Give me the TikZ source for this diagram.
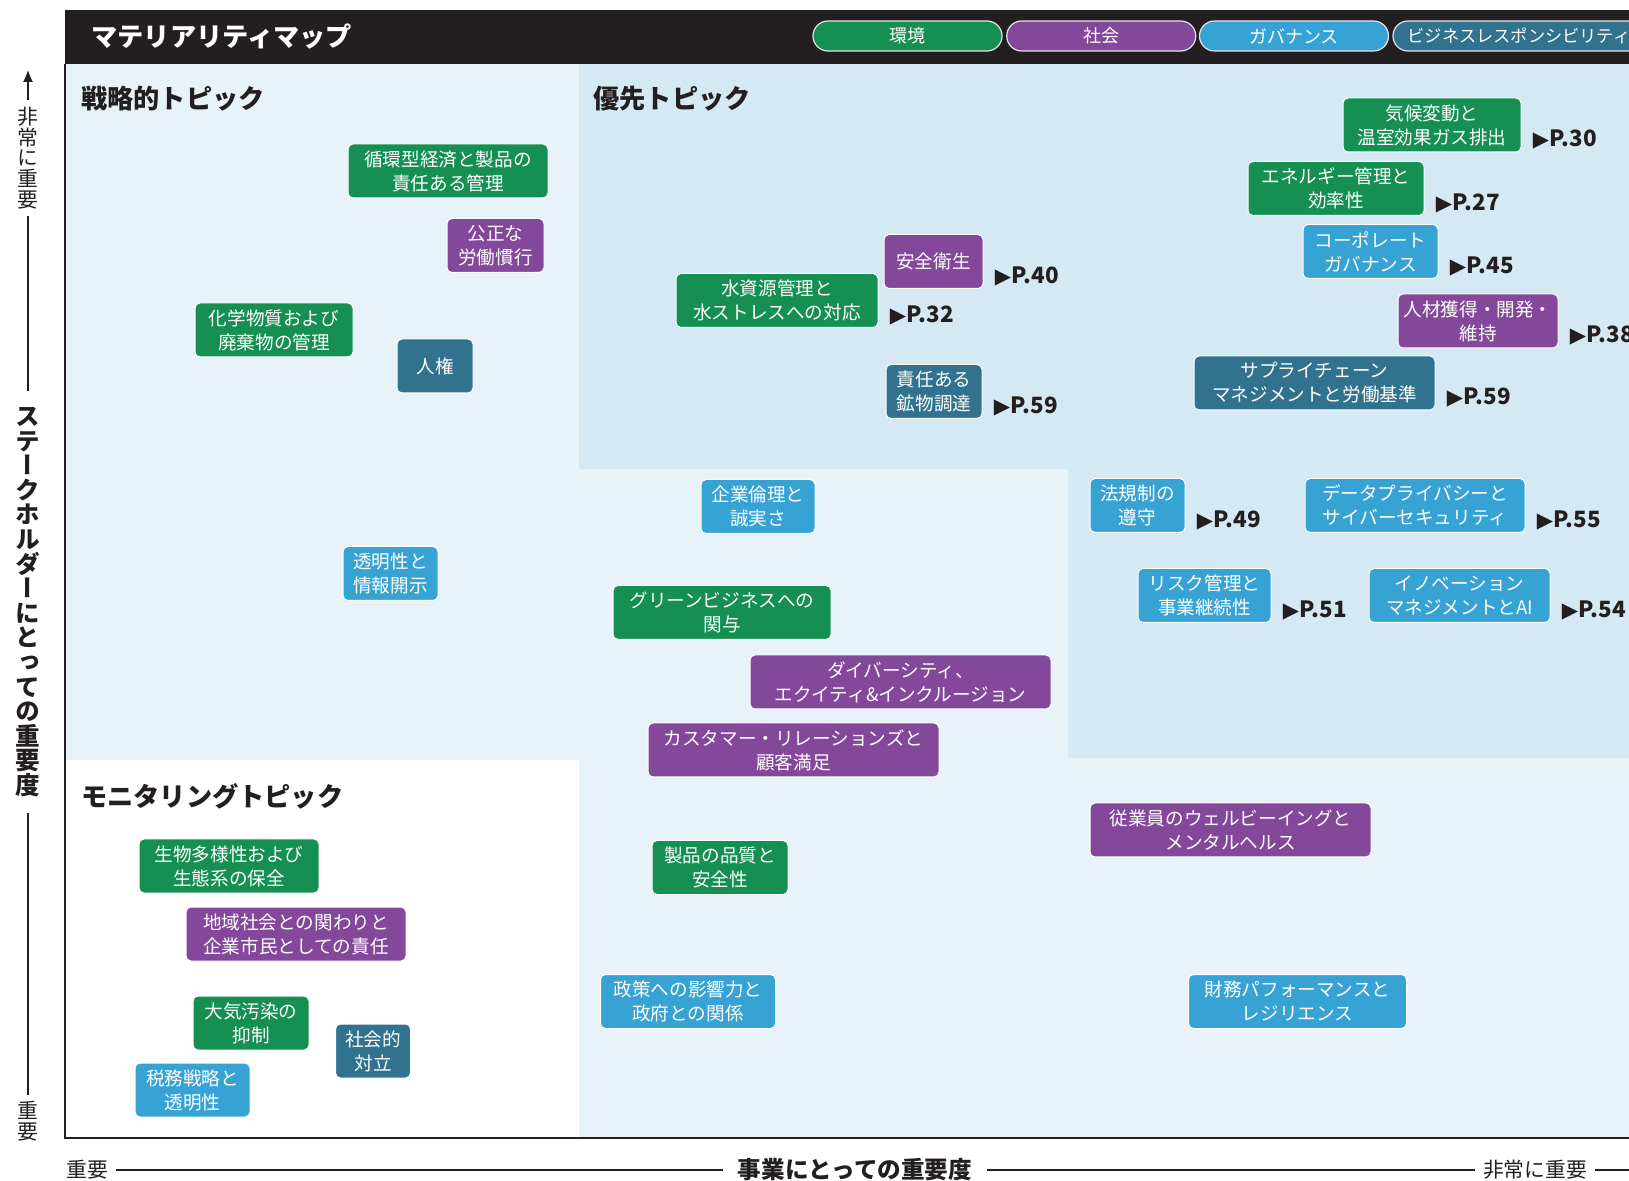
\documentclass[tikz,border=0pt]{standalone}
\usepackage{fontspec}
\usetikzlibrary{arrows.meta}
\newfontfamily\jp{Noto Sans CJK JP}
\newfontfamily\jpv[RawFeature=+vert]{Noto Sans CJK JP}
\newfontfamily\djv{DejaVu Sans}
\definecolor{gr}{RGB}{21,143,82}
\definecolor{pu}{RGB}{131,72,153}
\definecolor{bl}{RGB}{55,163,213}
\definecolor{te}{RGB}{49,114,143}
\definecolor{hdr}{RGB}{35,31,32}
\definecolor{lt}{RGB}{231,243,249}
\definecolor{dk}{RGB}{212,233,244}
\newcommand\pg[1]{{\djv\fontsize{10.6}{10.6}\selectfont ▶}\kern0.2pt P.#1}
\tikzset{
  topic/.style={rounded corners=2.5pt, draw=white, line width=0.5pt, text=white,
    align=center, inner sep=0pt, minimum height=27pt,
    font=\jp\fontsize{9.3}{12}\selectfont},
  bw/.style={minimum width=#1*0.5pt},
  plab/.style={anchor=base west, xshift=5.5pt, yshift=2.75pt, inner sep=0pt,
    text=hdr, font=\jp\bfseries\fontsize{11.2}{11.2}\selectfont},
  sect/.style={anchor=west, inner sep=0pt, text=hdr,
    font=\jp\bfseries\fontsize{13.1}{13.1}\selectfont},
  pill/.style={rounded corners=7.5pt, draw=white!80!gray, line width=0.6pt,
    text=white, inner sep=0pt, minimum height=15pt,
    font=\jp\fontsize{9}{9}\selectfont},
  axs/.style={inner ysep=0pt, inner xsep=3.8pt, text=hdr,
    font=\jp\fontsize{10.4}{10.4}\selectfont},
  axb/.style={inner ysep=0pt, inner xsep=7.3pt, text=hdr,
    font=\jp\bfseries\fontsize{11.8}{11.8}\selectfont},
  axsv/.style={inner xsep=0pt, inner ysep=3pt, align=center, text=hdr,
    font=\jpv\fontsize{10.4}{10.4}\selectfont},
  axbv/.style={inner xsep=0pt, inner ysep=8pt, align=center, text=hdr,
    font=\jpv\bfseries\fontsize{12.3}{12.3}\selectfont},
  axline/.style={draw=hdr, line width=1pt},
  axlinev/.style={draw=hdr, line width=0.6pt}
}
\begin{document}
\begin{tikzpicture}[x=0.5pt,y=-0.5pt]
\useasboundingbox (0,0) rectangle (1629,1181);
\clip (0,0) rectangle (1629,1181);
\fill[white] (0,0) rectangle (1629,1181);
% regions
\fill[lt] (65,64) rectangle (1629,1138);
\fill[white] (65,760) rectangle (579,1138);
\fill[dk] (579,64) -- (1629,64) -- (1629,758) -- (1068,758) -- (1068,469) -- (579,469) -- cycle;
% header
\fill[hdr] (65,10) rectangle (1629,64);
\draw[hdr, line width=1pt] (65,64) -- (65,1138) -- (1629,1138);
\node[sect, text=white] (ttl) at (91,37) {マテリアリティマップ};
\node[pill, fill=gr, minimum width=94.5pt] (g1) at (907.5,36) {環境};
\node[pill, fill=pu, minimum width=94.5pt] (g2) at (1101.25,36) {社会};
\node[pill, fill=bl, minimum width=94.5pt] (g3) at (1294,36) {ガバナンス};
\node[pill, fill=te, minimum width=126pt, font=\jp\fontsize{8.6}{8.6}\selectfont] (g4) at (1519,36) {ビジネスレスポンシビリティ};
% section titles
\node[sect] (s1) at (81,99) {戦略的トピック};
\node[sect] (s2) at (593,99) {優先トピック};
\node[sect] (s3) at (81,796) {モニタリングトピック};
% topics
\node[topic,fill=gr,bw=200] (t1) at (448,171) {循環型経済と製品の\\責任ある管理};
\node[topic,fill=pu,bw=97] (t2) at (495.5,245.5) {公正な\\労働慣行};
\node[topic,fill=gr,bw=158] (t3) at (274,330) {化学物質および\\廃棄物の管理};
\node[topic,fill=te,bw=76] (t4) at (435,366) {人権};
\node[topic,fill=bl,bw=95] (t5) at (390.5,573.5) {透明性と\\情報開示};
\node[topic,fill=bl,bw=114] (t6) at (758,506.5) {企業倫理と\\誠実さ};
\node[topic,fill=gr,bw=218] (t7) at (722,612.5) {グリーンビジネスへの\\関与};
\node[topic,fill=pu,bw=301] (t8) at (900.5,682) {ダイバーシティ、\\エクイティ\&インクルージョン};
\node[topic,fill=pu,bw=291] (t9) at (793.5,750) {カスタマー・リレーションズと\\顧客満足};
\node[topic,fill=gr,bw=202] (t10) at (777,300.5) {水資源管理と\\水ストレスへの対応};
\node[topic,fill=pu,bw=99] (t11) at (933.5,261.5) {安全衛生};
\node[topic,fill=te,bw=96] (t12) at (934,391.5) {責任ある\\鉱物調達};
\node[topic,fill=gr,bw=178] (t13) at (1432,125) {気候変動と\\温室効果ガス排出};
\node[topic,fill=gr,bw=176] (t14) at (1336,188.5) {エネルギー管理と\\効率性};
\node[topic,fill=bl,bw=135] (t15) at (1370.5,251.5) {コーポレート\\ガバナンス};
\node[topic,fill=pu,bw=160] (t16) at (1478,321) {人材獲得・開発・\\維持};
\node[topic,fill=te,bw=241] (t17) at (1314.5,383) {サプライチェーン\\マネジメントと労働基準};
\node[topic,fill=bl,bw=95] (t18) at (1137.5,505.5) {法規制の\\遵守};
\node[topic,fill=bl,bw=220] (t19) at (1415,505.5) {データプライバシーと\\サイバーセキュリティ};
\node[topic,fill=bl,bw=133] (t20) at (1204.5,595.5) {リスク管理と\\事業継続性};
\node[topic,fill=bl,bw=181] (t21) at (1459.5,595.5) {イノベーション\\マネジメントとAI};
\node[topic,fill=pu,bw=281] (t22) at (1230.5,830) {従業員のウェルビーイングと\\メンタルヘルス};
\node[topic,fill=gr,bw=136] (t23) at (720,867.5) {製品の品質と\\安全性};
\node[topic,fill=bl,bw=175] (t24) at (688,1001.5) {政策への影響力と\\政府との関係};
\node[topic,fill=bl,bw=218] (t25) at (1297.5,1001.5) {財務パフォーマンスと\\レジリエンス};
\node[topic,fill=gr,bw=180] (t26) at (229,866) {生物多様性および\\生態系の保全};
\node[topic,fill=pu,bw=220] (t27) at (296,934) {地域社会との関わりと\\企業市民としての責任};
\node[topic,fill=gr,bw=116] (t28) at (251,1023) {大気汚染の\\抑制};
\node[topic,fill=te,bw=75] (t29) at (373,1051) {社会的\\対立};
\node[topic,fill=bl,bw=115] (t30) at (192.5,1090) {税務戦略と\\透明性};
% page labels
\node[plab] (p10) at (t10.south east) {\pg{32}};
\node[plab] (p11) at (t11.south east) {\pg{40}};
\node[plab] (p12) at (t12.south east) {\pg{59}};
\node[plab] (p13) at (t13.south east) {\pg{30}};
\node[plab] (p14) at (t14.south east) {\pg{27}};
\node[plab] (p15) at (t15.south east) {\pg{45}};
\node[plab] (p16) at (t16.south east) {\pg{38}};
\node[plab] (p17) at (t17.south east) {\pg{59}};
\node[plab] (p18) at (t18.south east) {\pg{49}};
\node[plab] (p19) at (t19.south east) {\pg{55}};
\node[plab] (p20) at (t20.south east) {\pg{51}};
\node[plab] (p21) at (t21.south east) {\pg{54}};
% bottom axis
\node[axs] (bx1) at (87,1170) {重要};
\node[axb] (bx2) at (855,1170) {事業にとっての重要度};
\node[axs] (bx3) at (1535,1170) {非常に重要};
\coordinate (bxe) at (1660,1170);
\draw[axline] (bx1) -- (bx2);
\draw[axline] (bx2) -- (bx3);
\draw[axline, -{Latex[length=6pt,width=5pt]}] (bx3) -- (bxe);
% left axis
\node[axsv] (ly1) at (28,158) {非\\常\\に\\重\\要};
\node[axbv] (ly2) at (28,602) {ス\\テ\\ー\\ク\\ホ\\ル\\ダ\\ー\\に\\と\\っ\\て\\の\\重\\要\\度};
\node[axsv] (ly3) at (28,1121) {重\\要};
\coordinate (lytop) at (28,70);
\draw[axlinev, -{Latex[length=6pt,width=5pt]}] (ly1) -- (lytop);
\draw[axlinev] (ly1) -- (ly2);
\draw[axlinev] (ly2) -- (ly3);
\end{tikzpicture}
\end{document}
